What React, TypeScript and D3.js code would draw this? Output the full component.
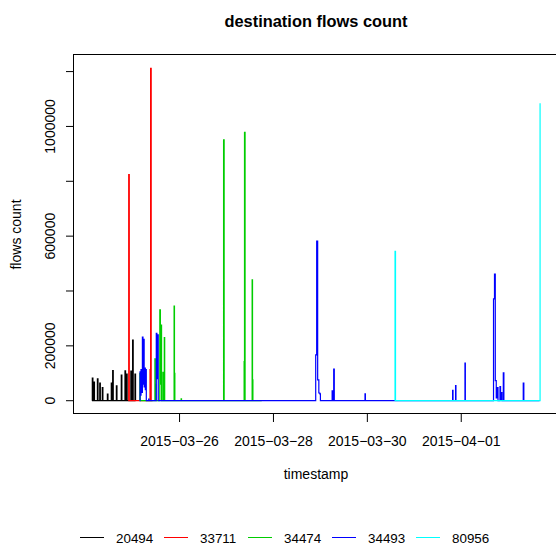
import React from "react";
import * as d3 from "d3";

// hours since 2015-03-24 00:00 UTC, flows count
const BASE = Date.UTC(2015, 2, 24);

const s20494: [number, number][] = [
  [3.2, 0], [3.4, 82000], [3.7, 0],
  [4.0, 0], [4.2, 68000], [4.5, 0],
  [5.8, 0], [6.0, 80000], [6.3, 0],
  [7.0, 0], [7.2, 64000], [7.5, 0],
  [8.3, 0], [8.5, 48000], [8.8, 0],
  [10.9, 0], [11.1, 24000], [11.4, 0],
  [12.9, 0], [13.1, 64000], [13.4, 0],
  [13.6, 0], [13.8, 110000], [14.1, 0],
  [15.5, 0], [15.7, 54000], [16.0, 0],
  [18.0, 0], [18.2, 93000], [18.5, 0],
  [19.9, 0], [20.1, 109000], [20.4, 0],
  [20.7, 0], [20.9, 97000], [21.2, 0],
  [22.9, 0], [23.1, 108000], [23.4, 0],
  [23.7, 0], [24.0, 221000], [24.3, 0],
  [24.9, 0], [25.2, 97000], [25.5, 0],
];

const s33711: [number, number][] = [
  [21.8, 0], [22.0, 824000], [22.3, 0],
  [32.6, 0], [32.9, 113000], [33.05, 0], [33.2, 1212000], [33.5, 0],
  [34.2, 0],
];

const s34474: [number, number][] = [
  [27.5, 0], [27.7, 100000], [27.9, 0],
  [35.2, 0], [35.4, 153000], [35.6, 60000], [35.8, 0],
  [37.7, 0], [37.9, 331000], [38.2, 60000], [38.5, 276000], [38.8, 0],
  [39.3, 0], [39.5, 103000], [39.7, 0],
  [40.0, 0], [40.2, 230000], [40.4, 0],
  [45.0, 0], [45.2, 345000], [45.4, 100000], [45.6, 0],
  [48.6, 0], [48.8, 7000], [49.0, 0],
  [70.3, 0], [70.5, 951000], [70.8, 0],
  [80.8, 0], [81.0, 143000], [81.2, 978000], [81.5, 0],
  [84.9, 0], [85.1, 441000], [85.3, 76000], [85.5, 0],
  [90.0, 0],
];

const s34493: [number, number][] = [
  [27.6, 0], [27.8, 105000], [28.0, 20000], [28.3, 113000], [28.6, 30000],
  [29.0, 232000], [29.3, 60000], [29.6, 224000], [29.9, 50000],
  [30.2, 119000], [30.5, 40000], [30.8, 113000], [31.0, 0],
  [32.0, 0], [32.2, 6000], [32.4, 0],
  [35.9, 0], [36.1, 246000], [36.4, 80000], [36.8, 240000], [37.1, 0],
  [117.4, 0], [117.6, 167000], [118.1, 582000], [118.6, 76000],
  [119.2, 28000], [119.7, 25000], [120.0, 0],
  [125.8, 0], [126.0, 36000], [126.3, 0], [126.6, 0], [126.8, 115000], [127.1, 0],
  [142.6, 0], [142.8, 25000], [143.0, 0],
  [187.4, 0], [187.6, 38000], [187.8, 0],
  [188.9, 0], [189.1, 55000], [189.3, 0],
  [193.7, 0], [193.9, 137000], [194.1, 0],
  [208.3, 0], [208.5, 371000], [209.0, 462000], [209.4, 73000],
  [209.9, 10000], [210.3, 48000], [210.8, 0],
  [211.6, 0], [211.8, 51000], [212.1, 5000], [212.5, 30000], [212.8, 0],
  [213.3, 0], [213.5, 102000], [213.8, 0],
  [223.5, 0], [223.7, 64000], [224.0, 0],
  [232.0, 0],
];

const s80956: [number, number][] = [
  [158.0, 0], [158.15, 545000], [158.4, 0],
  [232.0, 0], [232.3, 1085000],
];

const seriesNames = ["20494", "33711", "34474", "34493", "80956"];
const seriesData = [s20494, s33711, s34474, s34493, s80956];
const seriesColors = ["#000000", "#FF0000", "#00CD00", "#0000FF", "#00FFFF"];

const xTickLabels = ["2015-03-26", "2015-03-28", "2015-03-30", "2015-04-01"];
const yTicks = [0, 200000, 400000, 600000, 800000, 1000000, 1200000];
const yTickLabels = [0, 200000, 600000, 1000000];

const W = 556;
const H = 545;
const plot = { left: 74, right: 558, top: 55, bottom: 414 };
const font = "'Liberation Sans', Arial, Helvetica, sans-serif";

const toDate = (h: number) => new Date(BASE + h * 3600 * 1000);

export default function App() {
  const all = seriesData.flat();
  const [h0, h1] = d3.extent(all, (d) => d[0]) as [number, number];
  const vMax = d3.max(all, (d) => d[1]) as number;
  const hPad = (h1 - h0) * 0.04;
  const vPad = vMax * 0.04;

  const x = d3
    .scaleTime()
    .domain([toDate(h0 - hPad), toDate(h1 + hPad)])
    .range([plot.left, plot.right]);
  const y = d3
    .scaleLinear()
    .domain([-vPad, vMax + vPad])
    .range([plot.bottom, plot.top]);

  // dense samples look like vertical risers, so step the line
  const line = d3
    .line<[number, number]>()
    .x((d) => x(toDate(d[0])))
    .y((d) => y(d[1]))
    .curve(d3.curveStepAfter);

  const xt = xTickLabels.map((s) => ({ s, px: x(new Date(s + "T00:00:00Z")) }));
  const cx = (plot.left + plot.right) / 2;
  const cy = (plot.top + plot.bottom) / 2;

  return (
    <div style={{ position: "absolute", left: 0, top: 0 }}>
      <svg width={W} height={H} style={{ display: "block", fontFamily: font }}>
        <rect width={W} height={H} fill="#fff" />
        <defs>
          <clipPath id="plotclip">
            <rect x={plot.left} y={plot.top} width={plot.right - plot.left} height={plot.bottom - plot.top} />
          </clipPath>
        </defs>

        <g clipPath="url(#plotclip)">
          {seriesData.map((s, i) => (
            <path key={seriesNames[i]} d={line(s) ?? ""} fill="none" stroke={seriesColors[i]} strokeWidth={1.2} />
          ))}
        </g>

        {/* box */}
        <rect
          x={plot.left - 0.5}
          y={plot.top - 0.5}
          width={plot.right - plot.left}
          height={plot.bottom - plot.top}
          fill="none"
          stroke="#000"
          strokeWidth={1}
        />

        {/* y axis */}
        <line x1={plot.left - 0.5} x2={plot.left - 0.5} y1={y(yTicks[0])} y2={y(yTicks[yTicks.length - 1])} stroke="#000" />
        {yTicks.map((t) => (
          <line key={t} x1={plot.left - 8} x2={plot.left - 0.5} y1={y(t)} y2={y(t)} stroke="#000" />
        ))}
        {yTickLabels.map((t) => (
          <text
            key={t}
            transform={`translate(55,${y(t)}) rotate(-90)`}
            textAnchor="middle"
            fontSize={14}
          >
            {String(t)}
          </text>
        ))}

        {/* x axis */}
        <line x1={xt[0].px} x2={xt[xt.length - 1].px} y1={plot.bottom - 0.5} y2={plot.bottom - 0.5} stroke="#000" />
        {xt.map((t) => (
          <g key={t.s}>
            <line x1={t.px} x2={t.px} y1={plot.bottom - 0.5} y2={plot.bottom + 8} stroke="#000" />
            <text x={t.px} y={445.5} textAnchor="middle" fontSize={14}>
              {t.s.replace(/-/g, "\u2212")}
            </text>
          </g>
        ))}

        {/* titles */}
        <text x={cx} y={26.5} textAnchor="middle" fontSize={16.4} fontWeight="bold">
          destination flows count
        </text>
        <text x={cx} y={479} textAnchor="middle" fontSize={14}>
          timestamp
        </text>
        <text transform={`translate(20.5,${cy}) rotate(-90)`} textAnchor="middle" fontSize={14}>
          flows count
        </text>

        {/* legend */}
        {seriesNames.map((n, i) => {
          const lx = 80 + i * 84;
          return (
            <g key={n}>
              <line x1={lx} x2={lx + 24} y1={537.5} y2={537.5} stroke={seriesColors[i]} strokeWidth={1} />
              <text x={lx + 36} y={543} fontSize={13.4}>
                {n}
              </text>
            </g>
          );
        })}
      </svg>
    </div>
  );
}
